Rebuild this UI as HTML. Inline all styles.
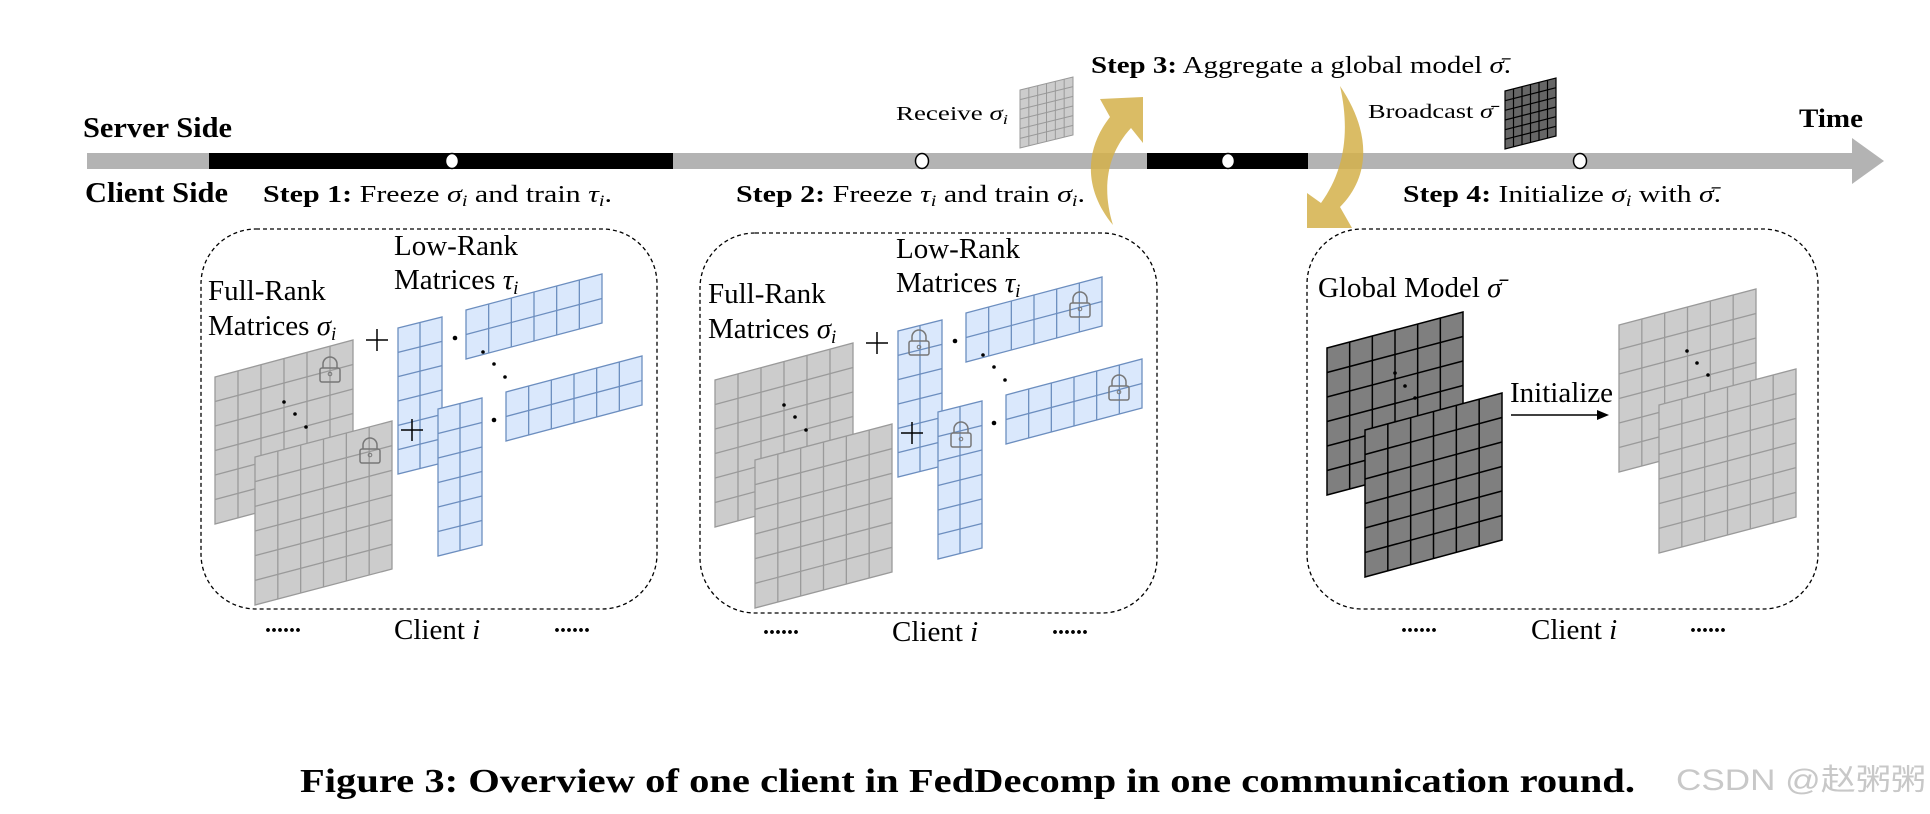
<!DOCTYPE html>
<html><head><meta charset="utf-8"><style>
html,body{margin:0;padding:0;background:#fff;}
svg{display:block;font-family:"Liberation Serif",serif;}
</style></head><body>
<svg id="s" width="1930" height="814" viewBox="0 0 1930 814" xmlns="http://www.w3.org/2000/svg">
<!-- timeline -->
<rect x="87" y="153" width="1770" height="16" fill="#b3b3b3"/>
<polygon points="1852,138 1884,161 1852,184" fill="#b3b3b3"/>
<rect x="209" y="153" width="464" height="16" fill="#000"/>
<rect x="1147" y="153" width="161" height="16" fill="#000"/>
<g fill="#fff" stroke="#000" stroke-width="1.5">
<ellipse cx="452" cy="161" rx="6.5" ry="7.5"/><ellipse cx="922" cy="161" rx="6.5" ry="7.5"/>
<ellipse cx="1228" cy="161" rx="6.5" ry="7.5"/><ellipse cx="1580" cy="161" rx="6.5" ry="7.5"/>
</g>
<text x="83" y="137" font-size="29" font-weight="bold" textLength="149" lengthAdjust="spacingAndGlyphs">Server Side</text>
<text x="85" y="202" font-size="29" font-weight="bold" textLength="143" lengthAdjust="spacingAndGlyphs">Client Side</text>
<text x="1799" y="127" font-size="26" font-weight="bold" textLength="64" lengthAdjust="spacingAndGlyphs">Time</text>

<text x="263" y="202" font-size="24" textLength="349" lengthAdjust="spacingAndGlyphs"><tspan font-weight="bold">Step 1:</tspan> Freeze <tspan font-style="italic">σ</tspan><tspan font-style="italic" font-size="16" dy="4">i</tspan><tspan dy="-4"> and train </tspan><tspan font-style="italic">τ</tspan><tspan font-style="italic" font-size="16" dy="4">i</tspan><tspan dy="-4">.</tspan></text>
<text x="736" y="202" font-size="24" textLength="349" lengthAdjust="spacingAndGlyphs"><tspan font-weight="bold">Step 2:</tspan> Freeze <tspan font-style="italic">τ</tspan><tspan font-style="italic" font-size="16" dy="4">i</tspan><tspan dy="-4"> and train </tspan><tspan font-style="italic">σ</tspan><tspan font-style="italic" font-size="16" dy="4">i</tspan><tspan dy="-4">.</tspan></text>
<text x="1091" y="73" font-size="24" textLength="420" lengthAdjust="spacingAndGlyphs"><tspan font-weight="bold">Step 3:</tspan> Aggregate a global model <tspan font-style="italic">σ̄</tspan>.</text>
<text x="1403" y="202" font-size="24" textLength="318" lengthAdjust="spacingAndGlyphs"><tspan font-weight="bold">Step 4:</tspan> Initialize <tspan font-style="italic">σ</tspan><tspan font-style="italic" font-size="16" dy="4">i</tspan><tspan dy="-4"> with </tspan><tspan font-style="italic">σ̄</tspan>.</text>
<text x="896" y="120" font-size="20" textLength="112" lengthAdjust="spacingAndGlyphs">Receive <tspan font-style="italic">σ</tspan><tspan font-style="italic" font-size="14" dy="4">i</tspan></text>
<text x="1368" y="118" font-size="20" textLength="125" lengthAdjust="spacingAndGlyphs">Broadcast <tspan font-style="italic">σ̄</tspan></text>

<!-- gold arrows -->
<g fill="#d4b04a" fill-opacity="0.85">
<path d="M1113,225 C1084,190 1084,150 1110,117 L1100,99 L1143,97 L1143,143 L1131,128 C1106,155 1102,190 1113,225 Z"/>
<path d="M1340,86 C1370,130 1372,175 1340,207 L1352,228 L1307,228 L1307,193 L1321,203 C1345,170 1350,130 1340,86 Z"/>
</g>

<!-- dashed boxes -->
<g fill="none" stroke="#000" stroke-width="1.3" stroke-dasharray="4,3">
<rect x="201" y="229" width="456" height="380" rx="55" ry="55"/>
<rect x="700" y="233" width="457" height="380" rx="55" ry="55"/>
<rect x="1307" y="229" width="511" height="380" rx="55" ry="55"/>
</g>
<g id="grids"></g>

<!-- box texts -->
<g font-size="29">
<text x="208" y="300">Full-Rank</text>
<text x="208" y="335">Matrices <tspan font-style="italic">σ</tspan><tspan font-style="italic" font-size="19" dy="5">i</tspan></text>
<text x="394" y="255">Low-Rank</text>
<text x="394" y="289">Matrices <tspan font-style="italic">τ</tspan><tspan font-style="italic" font-size="19" dy="5">i</tspan></text>
<text x="708" y="303">Full-Rank</text>
<text x="708" y="338">Matrices <tspan font-style="italic">σ</tspan><tspan font-style="italic" font-size="19" dy="5">i</tspan></text>
<text x="896" y="258">Low-Rank</text>
<text x="896" y="292">Matrices <tspan font-style="italic">τ</tspan><tspan font-style="italic" font-size="19" dy="5">i</tspan></text>
<text x="1318" y="297">Global Model <tspan font-style="italic">σ̄</tspan></text>
<text x="1510" y="402">Initialize</text>
<text x="394" y="639">Client <tspan font-style="italic">i</tspan></text>
<text x="892" y="641">Client <tspan font-style="italic">i</tspan></text>
<text x="1531" y="639">Client <tspan font-style="italic">i</tspan></text>
</g>
<g font-size="24" font-weight="bold">
<text x="265" y="632">......</text><text x="554" y="632">......</text>
<text x="763" y="634">......</text><text x="1052" y="634">......</text>
<text x="1401" y="632">......</text><text x="1690" y="632">......</text>
</g>
<line x1="1511" y1="415" x2="1600" y2="415" stroke="#000" stroke-width="1.5"/>
<polygon points="1609,415 1597,410 1597,420" fill="#000"/>

<text x="300" y="792" font-size="34" font-weight="bold" textLength="1335" lengthAdjust="spacingAndGlyphs">Figure 3: Overview of one client in FedDecomp in one communication round.</text>
<text x="1676" y="790" font-size="30" fill="#c8c8c8" font-family="Liberation Sans,'Noto Sans CJK SC',sans-serif" textLength="250" lengthAdjust="spacingAndGlyphs">CSDN @赵粥粥</text>
</svg>
<script>
var NS="http://www.w3.org/2000/svg",G=document.getElementById("grids");
function el(t,a){var e=document.createElementNS(NS,t);for(var k in a)e.setAttribute(k,a[k]);G.appendChild(e);return e;}
function grid(x,y,w,h,sk,c,r,fill,st,sw){
 el("polygon",{points:x+","+y+" "+(x+w)+","+(y+sk)+" "+(x+w)+","+(y+sk+h)+" "+x+","+(y+h),fill:fill,stroke:st,"stroke-width":sw||1.3});
 for(var i=1;i<c;i++){var xx=x+i*w/c,yy=y+sk*i/c;el("line",{x1:xx,y1:yy,x2:xx,y2:yy+h,stroke:st,"stroke-width":sw||1.3});}
 for(var j=1;j<r;j++){var yy=y+j*h/r;el("line",{x1:x,y1:yy,x2:x+w,y2:yy+sk,stroke:st,"stroke-width":sw||1.3});}
}
function dot(x,y,r){el("circle",{cx:x,cy:y,r:r||1.8,fill:"#000"});}
function plus(x,y){el("path",{d:"M"+(x-11)+","+y+"H"+(x+11)+"M"+x+","+(y-11)+"V"+(y+11),stroke:"#000","stroke-width":1.5});}
function lock(x,y){el("path",{d:"M"+(x+3)+","+(y+11)+"V"+(y+7)+"A7,7 0 0 1 "+(x+17)+","+(y+7)+"V"+(y+11),fill:"none",stroke:"#777","stroke-width":1.5});
 el("rect",{x:x,y:y+11,width:20,height:14,rx:2,fill:"none",stroke:"#777","stroke-width":1.5});
 el("circle",{cx:x+10,cy:y+17,r:1.8,fill:"none",stroke:"#777","stroke-width":1});}
var GF="#cccccc",GS="#9a9a9a",BF="#dae8fc",BS="#6c8ebf";
function box(dx,dy,two){
 grid(215+dx,377+dy,138,147,-37,6,6,GF,GS);
 dot(284+dx,402+dy);dot(295+dx,414+dy);dot(306+dx,427+dy);
 grid(255+dx,457+dy,137,148,-36,6,6,GF,GS);
 plus(377+dx,340+dy);
 grid(398+dx,328+dy,44,146,-11,2,6,BF,BS);
 grid(438+dx,409+dy,44,147,-11,2,6,BF,BS);
 plus(412+dx,430+dy);
 grid(466+dx,310+dy,136,49,-36,6,2,BF,BS);
 grid(506+dx,392+dy,136,49,-36,6,2,BF,BS);
 dot(455+dx,338+dy,2.3);dot(494+dx,420+dy,2.3);
 dot(483+dx,352+dy);dot(494+dx,364+dy);dot(505+dx,377+dy);
 if(!two){lock(320,357);lock(360,438);}
 else{lock(909,330);lock(951,422);lock(1070,292);lock(1109,375);}
}
box(0,0,false);box(500,3,true);
grid(1327,348,136,147,-36,6,6,"#7f7f7f","#000",1.5);
dot(1395,373);dot(1405,386);dot(1415,398);
grid(1365,430,137,147,-37,6,6,"#7f7f7f","#000",1.5);
grid(1619,325,137,147,-36,6,6,GF,GS);
dot(1687,351);dot(1697,363);dot(1708,375);
grid(1659,405,137,148,-36,6,6,GF,GS);
grid(1020,90,53,58,-13,6,6,GF,"#999",1);
grid(1505,91,51,58,-13,6,6,"#666","#000",1.2);
</script>
</body></html>
